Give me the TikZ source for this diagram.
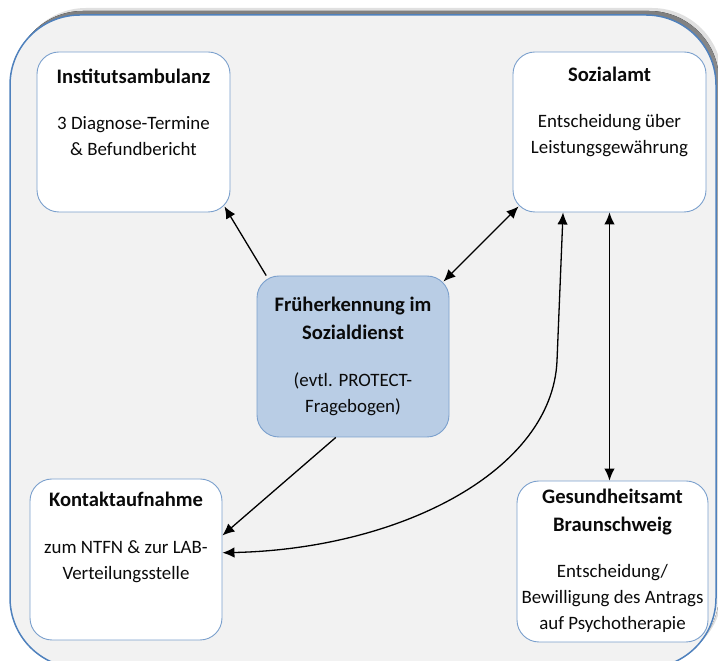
\documentclass[tikz,border=0pt]{standalone}
\usepackage{fontspec}
\setmainfont{Carlito}
\usetikzlibrary{arrows.meta,calc}
\definecolor{frame}{HTML}{F2F2F2}
\definecolor{frameedge}{HTML}{4F81BD}
\definecolor{shade}{HTML}{A6A6A6}
\definecolor{boxedge}{HTML}{7BA0CD}
\definecolor{core}{HTML}{B9CDE5}
\definecolor{ink}{HTML}{0A0A0A}
\newcommand{\boxhead}[1]{{\fontsize{20.6}{28}\selectfont\bfseries #1}}

\begin{document}
\begin{tikzpicture}[x=1pt,y=1pt,
  box/.style={draw=boxedge,line width=0.9pt,rounded corners=22pt,fill=white,minimum width=193pt,minimum height=160pt,inner sep=0pt},
  txt/.style={align=center,anchor=north,inner sep=0pt,text=ink,font=\fontsize{18.9}{26}\selectfont},
  link/.style={-{Latex[length=12pt,width=10.5pt]},line width=1.3pt,black},
  both/.style={{Latex[length=12pt,width=10.5pt]}-{Latex[length=12pt,width=10.5pt]},line width=1.3pt,black}]
  \useasboundingbox (0,0) rectangle (718,661);
  \clip (0,0) rectangle (718,661);

  % ===== outer frame with shadow =====
  \fill[shade!35,rounded corners=70pt] (16,-1) rectangle (722,653);
  \fill[shade,rounded corners=70pt] (13,-3) rectangle (719,650);
  \filldraw[fill=frame,draw=frameedge,line width=1.5pt,rounded corners=70pt] (10,-7) rectangle (716,646);

  % ===== boxes =====
  \node[box] (amb) at (133.5,529) {};
  \node[box] (soz) at (609.5,529) {};
  \node[box,fill=core,minimum width=192pt,minimum height=161pt] (fruh) at (353,304.5) {};
  \node[box,minimum width=192pt,minimum height=161pt] (kont) at (126,101.5) {};
  \node[box,minimum width=191pt,minimum height=161pt] (ges) at (612.5,99.5) {};

  % ===== box texts =====
  \node[txt] (amb-t) at ($(amb.north)+(0,-17)$) {\boxhead{Institutsambulanz}\\[20pt]3 Diagnose-Termine\\\& Befundbericht};
  \node[txt] (soz-t) at ($(soz.north)+(0,-15)$) {\boxhead{Sozialamt}\\[20pt]Entscheidung über\\Leistungsgewährung};
  \node[txt] (fruh-t) at ($(fruh.north)+(0,-21)$) {\boxhead{Früherkennung im}\\[2pt]\boxhead{Sozialdienst}\\[21pt](evtl. PROTECT-\\Fragebogen)};
  \node[txt] (kont-t) at ($(kont.north)+(0,-13)$) {\boxhead{Kontaktaufnahme}\\[21pt]zum NTFN \& zur LAB-\\Verteilungsstelle};
  \node[txt] (ges-t) at ($(ges.north)+(0,-8)$) {\boxhead{Gesundheitsamt}\\[2pt]\boxhead{Braunschweig}\\[20pt]Entscheidung/\\Bewilligung des Antrags\\auf Psychotherapie};

  % ===== connectors =====
  \draw[link] (fruh.137) -- ($(amb.south east)+(-6,6)$);
  \draw[both] ($(fruh.north east)+(-6,-6)$) -- ($(soz.south west)+(6,6)$);
  \coordinate (bend) at (557,300);
  \draw[both] (soz.-120) -- (bend) .. controls (552,190) and (400,112) .. (kont.4);
  \draw[both] (soz.south) -- (soz.south |- ges.north);
  \draw[link] (fruh.-102) -- (kont.14);
\end{tikzpicture}
\end{document}
